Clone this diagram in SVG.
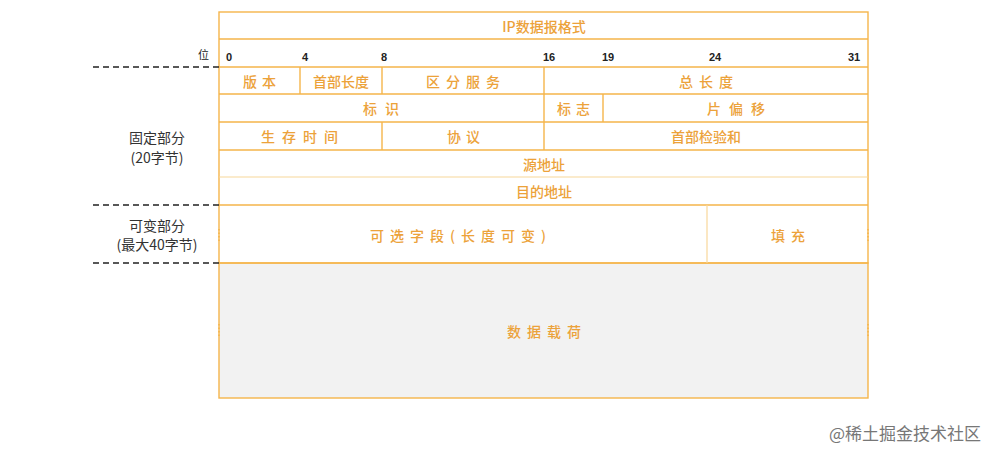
<svg xmlns="http://www.w3.org/2000/svg" width="999" height="458" viewBox="0 0 999 458">
<style>
.ln{stroke:#f5b54a;stroke-width:1.4;fill:none}
.lt{stroke:#f8d79a;stroke-width:1.2;fill:none}
.pay{stroke:#f5b54a;stroke-width:1.4;fill:#f2f2f2}
.f{font-family:"Noto Sans CJK SC","Liberation Sans",sans-serif;font-size:14px;fill:#eca23a;text-anchor:middle;dominant-baseline:central;font-weight:500}
.b{font-family:"Liberation Sans","Noto Sans CJK SC",sans-serif;font-size:11px;fill:#222;dominant-baseline:central;font-weight:bold}
.k{font-family:"Noto Sans CJK SC",sans-serif;font-size:14px;fill:#333;text-anchor:middle;dominant-baseline:central}
.d{stroke:#222;stroke-width:1.5;stroke-dasharray:6,4;fill:none}
.dot{stroke:#f5b54a;stroke-width:1.5;stroke-dasharray:1.5,2;fill:none}
</style>
<rect width="999" height="458" fill="#fff"/>
<g id="payload"><rect x="219" y="263" width="649" height="135" class="pay"/><text class="f" x="547" y="331" letter-spacing="6">数据载荷</text></g>
<g id="frame">
<rect x="219" y="12" width="649" height="251" class="ln"/>
<line x1="219" y1="39" x2="868" y2="39" class="ln"/>
<line x1="219" y1="67" x2="868" y2="67" class="ln"/>
<line x1="219" y1="94" x2="868" y2="94" class="ln"/>
<line x1="219" y1="122" x2="868" y2="122" class="ln"/>
<line x1="219" y1="150" x2="868" y2="150" class="ln"/>
<line x1="219" y1="177" x2="868" y2="177" class="lt"/>
<line x1="219" y1="205" x2="868" y2="205" class="ln"/>
</g>
<g id="title"><text class="f" x="544" y="26">IP数据报格式</text></g>
<g id="bits">
<text class="b" x="198" y="55" font-weight="normal" style="font-weight:normal">位</text>
<text class="b" x="226" y="57">0</text>
<text class="b" x="302" y="57">4</text>
<text class="b" x="381" y="57">8</text>
<text class="b" x="543" y="57">16</text>
<text class="b" x="602" y="57">19</text>
<text class="b" x="709" y="57">24</text>
<text class="b" x="848" y="57">31</text>
</g>
<g id="row1">
<line x1="300" y1="67" x2="300" y2="94" class="ln"/>
<line x1="382" y1="67" x2="382" y2="94" class="ln"/>
<line x1="544" y1="67" x2="544" y2="94" class="ln"/>
<text class="f" x="262" y="81" letter-spacing="5">版本</text>
<text class="f" x="341" y="81">首部长度</text>
<text class="f" x="466" y="81" letter-spacing="6">区分服务</text>
<text class="f" x="709" y="81" letter-spacing="6">总长度</text>
</g>
<g id="row2">
<line x1="544" y1="94" x2="544" y2="122" class="ln"/>
<line x1="603" y1="94" x2="603" y2="122" class="ln"/>
<text class="f" x="385" y="108" letter-spacing="8">标识</text>
<text class="f" x="576" y="108" letter-spacing="5">标志</text>
<text class="f" x="740" y="108" letter-spacing="8">片偏移</text>
</g>
<g id="row3">
<line x1="382" y1="122" x2="382" y2="150" class="ln"/>
<line x1="544" y1="122" x2="544" y2="150" class="ln"/>
<text class="f" x="303" y="136" letter-spacing="7">生存时间</text>
<text class="f" x="466" y="136" letter-spacing="5">协议</text>
<text class="f" x="706" y="136">首部检验和</text>
</g>
<g id="row4"><text class="f" x="544" y="164">源地址</text></g>
<g id="row5"><text class="f" x="544" y="191">目的地址</text></g>
<g id="row6">
<line x1="707" y1="205" x2="707" y2="263" class="lt"/>
<text class="f" x="461" y="235" letter-spacing="6">可选字段(长度可变)</text>
<text class="f" x="791" y="235" letter-spacing="6">填充</text>
</g>
<g id="dots">
<line x1="219" y1="229" x2="219" y2="241" class="dot"/>
<line x1="868" y1="229" x2="868" y2="241" class="dot"/>
<line x1="219" y1="324" x2="219" y2="336" class="dot"/>
<line x1="868" y1="324" x2="868" y2="336" class="dot"/>
</g>
<g id="connectors">
<line x1="93" y1="67" x2="219" y2="67" class="d"/>
<line x1="93" y1="205" x2="219" y2="205" class="d"/>
<line x1="93" y1="263" x2="219" y2="263" class="d"/>
</g>
<g id="labels">
<text class="k" x="157" y="137">固定部分</text>
<text class="k" x="157" y="157">(20字节)</text>
<text class="k" x="157" y="225">可变部分</text>
<text class="k" x="157" y="244">(最大40字节)</text>
</g>
<g id="watermark">
<text x="905" y="432" font-family="Noto Sans CJK SC,sans-serif" font-size="17" fill="#777" text-anchor="middle" dominant-baseline="central">@稀土掘金技术社区</text>
</g>
</svg>
